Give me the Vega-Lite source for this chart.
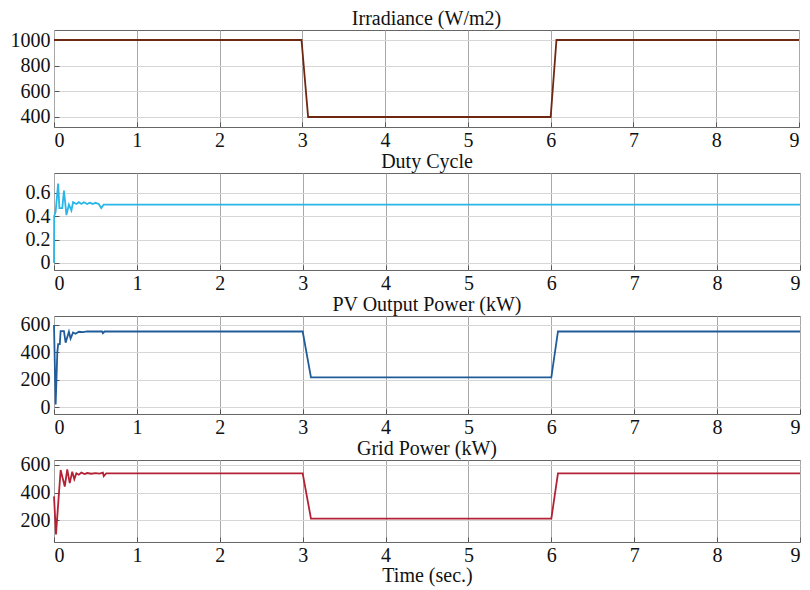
{
  "$schema": "https://vega.github.io/schema/vega-lite/v6.json",
  "background": "white",
  "padding": {"top": 8, "left": 9, "right": 4, "bottom": 1},
  "spacing": 0,
  "align": "none",
  "config": {
    "font": "Liberation Serif",
    "view": {"stroke": "#666666", "strokeWidth": 1},
    "title": {"font": "Liberation Serif", "fontSize": 20, "fontWeight": "normal", "color": "#111", "offset": 0},
    "axis": {"labelFont": "Liberation Serif", "labelFontSize": 20, "labelColor": "#111", "titleFont": "Liberation Serif", "titleFontSize": 20, "titleFontWeight": "normal", "titleColor": "#111", "domain": false, "ticks": true, "tickSize": -5, "tickColor": "#555555", "labelPadding": 9},
    "line": {"strokeWidth": 1.8}
  },
  "vconcat": [
    {
      "title": {"text": "Irradiance (W/m2)", "offset": 1},
      "width": 745, "height": 97,
      "data": {"values": [
        {"t": 0, "v": 1000}, {"t": 2.99, "v": 1000}, {"t": 3.07, "v": 400},
        {"t": 6.0, "v": 400}, {"t": 6.07, "v": 1000}, {"t": 9, "v": 1000}
      ]},
      "mark": {"type": "line", "color": "#6e2812"},
      "encoding": {
        "x": {"field": "t", "type": "quantitative", "scale": {"domain": [0, 9], "nice": false}, "axis": {"values": [0,1,2,3,4,5,6,7,8,9], "title": null, "labelFont": "Liberation Serif", "labelFontSize": 20, "gridColor": "#a8a8a8", "labelPadding": 8}},
        "y": {"field": "v", "type": "quantitative", "scale": {"domain": [322, 1078], "nice": false, "zero": false}, "axis": {"values": [400, 600, 800, 1000], "format": "d", "title": null, "labelFont": "Liberation Serif", "labelFontSize": 20, "gridColor": "#d6d6d6"}}
      }
    },
    {
      "title": {"text": "Duty Cycle", "offset": 1},
      "width": 746, "height": 97,
      "data": {"values": [
        {"t": 0, "v": 0}, {"t": 0.002, "v": 0.4}, {"t": 0.02, "v": 0.44}, {"t": 0.05, "v": 0.68},
        {"t": 0.065, "v": 0.47}, {"t": 0.1, "v": 0.47}, {"t": 0.12, "v": 0.62}, {"t": 0.15, "v": 0.41},
        {"t": 0.18, "v": 0.5}, {"t": 0.21, "v": 0.45}, {"t": 0.23, "v": 0.52}, {"t": 0.27, "v": 0.505},
        {"t": 0.3, "v": 0.52}, {"t": 0.33, "v": 0.505}, {"t": 0.36, "v": 0.52}, {"t": 0.4, "v": 0.505},
        {"t": 0.43, "v": 0.515}, {"t": 0.47, "v": 0.505}, {"t": 0.5, "v": 0.515}, {"t": 0.54, "v": 0.505},
        {"t": 0.57, "v": 0.47}, {"t": 0.6, "v": 0.5}, {"t": 9, "v": 0.5}
      ]},
      "mark": {"type": "line", "color": "#29b6e8"},
      "encoding": {
        "x": {"field": "t", "type": "quantitative", "scale": {"domain": [0, 9], "nice": false}, "axis": {"values": [0,1,2,3,4,5,6,7,8,9], "title": null, "labelFont": "Liberation Serif", "labelFontSize": 20, "gridColor": "#a8a8a8", "labelPadding": 8}},
        "y": {"field": "v", "type": "quantitative", "scale": {"domain": [-0.06, 0.77], "nice": false, "zero": false}, "axis": {"values": [0, 0.2, 0.4, 0.6], "format": "~g", "title": null, "labelFont": "Liberation Serif", "labelFontSize": 20, "gridColor": "#d6d6d6"}}
      }
    },
    {
      "title": {"text": "PV Output Power (kW)", "offset": 0},
      "width": 746, "height": 98,
      "data": {"values": [
        {"t": 0, "v": 600}, {"t": 0.02, "v": 20}, {"t": 0.04, "v": 400}, {"t": 0.05, "v": 460},
        {"t": 0.07, "v": 460}, {"t": 0.08, "v": 555}, {"t": 0.12, "v": 555}, {"t": 0.14, "v": 470},
        {"t": 0.18, "v": 550}, {"t": 0.2, "v": 500}, {"t": 0.23, "v": 545}, {"t": 0.26, "v": 535},
        {"t": 0.3, "v": 550}, {"t": 0.35, "v": 548}, {"t": 0.4, "v": 553}, {"t": 0.5, "v": 552},
        {"t": 0.58, "v": 553}, {"t": 0.59, "v": 540}, {"t": 0.61, "v": 552}, {"t": 3.0, "v": 552},
        {"t": 3.1, "v": 217}, {"t": 6.0, "v": 217}, {"t": 6.08, "v": 552}, {"t": 9, "v": 552}
      ]},
      "mark": {"type": "line", "color": "#1f5c99"},
      "encoding": {
        "x": {"field": "t", "type": "quantitative", "scale": {"domain": [0, 9], "nice": false}, "axis": {"values": [0,1,2,3,4,5,6,7,8,9], "title": null, "labelFont": "Liberation Serif", "labelFontSize": 20, "gridColor": "#a8a8a8", "labelPadding": 8}},
        "y": {"field": "v", "type": "quantitative", "scale": {"domain": [-50, 665], "nice": false, "zero": false}, "axis": {"values": [0, 200, 400, 600], "title": null, "labelFont": "Liberation Serif", "labelFontSize": 20, "gridColor": "#d6d6d6"}}
      }
    },
    {
      "title": {"text": "Grid Power (kW)", "offset": -4},
      "width": 746, "height": 82,
      "data": {"values": [
        {"t": 0, "v": 374}, {"t": 0.024, "v": 100}, {"t": 0.08, "v": 564}, {"t": 0.13, "v": 445},
        {"t": 0.16, "v": 569}, {"t": 0.19, "v": 469}, {"t": 0.22, "v": 552}, {"t": 0.245, "v": 498},
        {"t": 0.27, "v": 540}, {"t": 0.3, "v": 530}, {"t": 0.33, "v": 545}, {"t": 0.37, "v": 535},
        {"t": 0.4, "v": 542}, {"t": 0.45, "v": 537}, {"t": 0.5, "v": 542}, {"t": 0.55, "v": 538},
        {"t": 0.59, "v": 545}, {"t": 0.6, "v": 520}, {"t": 0.63, "v": 540}, {"t": 3.0, "v": 540},
        {"t": 3.1, "v": 214}, {"t": 6.0, "v": 214}, {"t": 6.08, "v": 540}, {"t": 9, "v": 540}
      ]},
      "mark": {"type": "line", "color": "#b22234"},
      "encoding": {
        "x": {"field": "t", "type": "quantitative", "scale": {"domain": [0, 9], "nice": false}, "axis": {"values": [0,1,2,3,4,5,6,7,8,9], "title": "Time (sec.)", "titlePadding": 0, "titleFont": "Liberation Serif", "titleFontSize": 20, "labelFont": "Liberation Serif", "labelFontSize": 20, "gridColor": "#a8a8a8", "labelPadding": 8}},
        "y": {"field": "v", "type": "quantitative", "scale": {"domain": [45, 636], "nice": false, "zero": false}, "axis": {"values": [200, 400, 600], "title": null, "labelFont": "Liberation Serif", "labelFontSize": 20, "gridColor": "#d6d6d6"}}
      }
    }
  ]
}
